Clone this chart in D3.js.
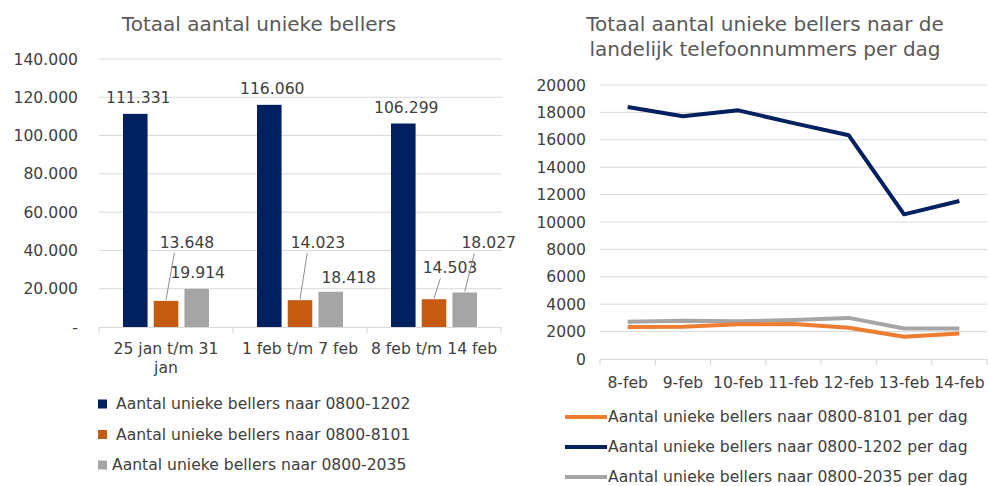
<!DOCTYPE html>
<html>
<head>
<meta charset="utf-8">
<script src="https://cdn.jsdelivr.net/npm/d3@7"></script>
<style>
  html, body { margin: 0; padding: 0; background: #fff; }
  svg { display: block; font-family: "DejaVu Sans", Verdana, sans-serif; }
</style>
</head>
<body>
<svg id="chart" width="988" height="486"></svg>
<script>
// ---------- DATA ----------
const weekCategories = ["25 jan t/m 31 jan", "1 feb t/m 7 feb", "8 feb t/m 14 feb"];
const weekCategoryLines = [["25 jan t/m 31", "jan"], ["1 feb t/m 7 feb"], ["8 feb t/m 14 feb"]];
const barSeriesNames = ["Aantal unieke bellers naar 0800-1202", "Aantal unieke bellers naar 0800-8101", "Aantal unieke bellers naar 0800-2035"];
const bellers1202 = [111331, 116060, 106299];
const bellers8101 = [13648, 14023, 14503];
const bellers2035 = [19914, 18418, 18027];
const barTicks = [0, 20000, 40000, 60000, 80000, 100000, 120000, 140000];

const days = ["8-feb", "9-feb", "10-feb", "11-feb", "12-feb", "13-feb", "14-feb"];
const lineSeriesNames = ["Aantal unieke bellers naar 0800-8101 per dag", "Aantal unieke bellers naar 0800-1202 per dag", "Aantal unieke bellers naar 0800-2035 per dag"];
const daily8101 = [2330, 2350, 2530, 2550, 2280, 1620, 1870];
const daily1202 = [18400, 17720, 18150, 17220, 16330, 10560, 11530];
const daily2035 = [2720, 2800, 2750, 2850, 3000, 2230, 2230];
const lineTicks = [0, 2000, 4000, 6000, 8000, 10000, 12000, 14000, 16000, 18000, 20000];

// ---------- STYLE ----------
const barColors = ["#002060", "#c55a11", "#a5a5a5"];
const lineColors = ["#ed7d31", "#002060", "#a5a5a5"];
const textColor = "#404040";
const titleColor = "#595959";
const gridColor = "#d9d9d9";
const fs = 15.6;
const tfs = 20;
const ff = "DejaVu Sans, Verdana, sans-serif";

const svg = d3.select("#chart");
const nl = d3.formatLocale({decimal: ",", thousands: ".", grouping: [3], currency: ["€", ""]});
const fmt = v => v === 0 ? "-" : nl.format(",")(v);

// ================= LEFT: bar chart =================
const L = svg.append("g");
const x0 = d3.scaleBand().domain(weekCategories).range([99, 501]);
const x1 = d3.scaleBand().domain([0, 1, 2]).range([24, 110]).paddingInner(0.2);
const yB = d3.scaleLinear().domain([0, 140000]).range([327, 59]);

L.append("text").attr("x", 259).attr("y", 31).attr("text-anchor", "middle")
  .attr("fill", titleColor).attr("font-size", tfs).text("Totaal aantal unieke bellers");

// grid
L.append("g").selectAll("line").data(barTicks.filter(t => t > 0)).join("line")
  .attr("x1", 99).attr("x2", 502).attr("y1", d => yB(d)).attr("y2", d => yB(d))
  .attr("stroke", gridColor).attr("stroke-width", 1);

// y axis labels
const yAxisB = d3.axisLeft(yB).tickValues(barTicks).tickFormat(fmt).tickSize(0).tickPadding(0);
const gyB = L.append("g").attr("transform", "translate(78,0)").call(yAxisB);
gyB.select(".domain").remove();
gyB.selectAll("text").attr("fill", textColor).attr("font-size", fs).attr("font-family", ff);

// bars
const barSeries = [bellers1202, bellers8101, bellers2035];
const groups = L.append("g").selectAll("g").data(weekCategories).join("g")
  .attr("transform", d => `translate(${x0(d)},0)`);
groups.selectAll("rect").data((d, i) => barSeries.map((s, k) => ({k, v: s[i]}))).join("rect")
  .attr("x", d => x1(d.k)).attr("width", x1.bandwidth())
  .attr("y", d => yB(d.v)).attr("height", d => yB(0) - yB(d.v))
  .attr("fill", d => barColors[d.k]);

// x axis
const xAxisB = d3.axisBottom(x0).tickSize(0).tickFormat("");
const gxB = L.append("g").attr("transform", `translate(0,${yB(0)})`).call(xAxisB);
gxB.select(".domain").attr("stroke", gridColor).attr("stroke-width", 1.2);
L.append("g").selectAll("line").data([...weekCategories.map(c => x0(c)), x0.range()[1]]).join("line")
  .attr("x1", d => d).attr("x2", d => d).attr("y1", yB(0)).attr("y2", yB(0) + 6)
  .attr("stroke", gridColor).attr("stroke-width", 1.2);
weekCategories.forEach((c, i) => {
  const t = L.append("text").attr("x", x0(c) + x0.bandwidth() / 2).attr("y", 354)
    .attr("text-anchor", "middle").attr("fill", textColor).attr("font-size", fs);
  weekCategoryLines[i].forEach((ln, j) => t.append("tspan").attr("x", x0(c) + x0.bandwidth() / 2).attr("dy", j ? 19 : 0).text(ln));
});

// data labels: offsets of each label from the top-center of its bar [series][group]: [dx, dy, leader]
const labelOffsets = [
  [[3, -11, false], [3, -11, false], [3, -11, false]],
  [[21, -53, true], [18, -52, true], [16, -26, true]],
  [[1, -11, false], [18, -9, false], [24, -44, true]]
];
barSeries.forEach((s, k) => {
  s.forEach((v, i) => {
    const cx = x0(weekCategories[i]) + x1(k) + x1.bandwidth() / 2;
    const top = yB(v);
    const [dx, dy, leader] = labelOffsets[k][i];
    if (leader) {
      L.append("line").attr("x1", cx + dx * 0.4).attr("y1", top + dy + 5)
        .attr("x2", cx).attr("y2", top - 1)
        .attr("stroke", "#7f7f7f").attr("stroke-width", 0.9);
    }
    L.append("text").attr("x", cx + dx).attr("y", top + dy).attr("text-anchor", "middle")
      .attr("fill", textColor).attr("font-size", fs).text(fmt(v));
  });
});

// legend
barSeriesNames.forEach((n, k) => {
  const y = 404 + k * 30.5;
  L.append("rect").attr("x", 98).attr("y", y - 4.5).attr("width", 9).attr("height", 9).attr("fill", barColors[k]);
  L.append("text").attr("x", k === 2 ? 112 : 116).attr("y", y).attr("dy", "0.35em")
    .attr("fill", textColor).attr("font-size", fs).text(n);
});

// ================= RIGHT: line chart =================
const R = svg.append("g");
const xL = d3.scaleBand().domain(days).range([600, 987]);
const yL = d3.scaleLinear().domain([0, 20000]).range([359, 85]);

const tt = R.append("text").attr("text-anchor", "middle").attr("fill", titleColor).attr("font-size", tfs);
tt.append("tspan").attr("x", 765).attr("y", 31).text("Totaal aantal unieke bellers naar de");
tt.append("tspan").attr("x", 765).attr("y", 56).text("landelijk telefoonnummers per dag");

R.append("g").selectAll("line").data(lineTicks.filter(t => t > 0)).join("line")
  .attr("x1", 600).attr("x2", 987).attr("y1", d => yL(d)).attr("y2", d => yL(d))
  .attr("stroke", gridColor).attr("stroke-width", 1);

const yAxisL = d3.axisLeft(yL).tickValues(lineTicks).tickFormat(d3.format("d")).tickSize(0).tickPadding(0);
const gyL = R.append("g").attr("transform", "translate(586,0)").call(yAxisL);
gyL.select(".domain").remove();
gyL.selectAll("text").attr("fill", textColor).attr("font-size", fs).attr("font-family", ff);

const xAxisL = d3.axisBottom(xL).tickSize(0).tickPadding(0);
const gxL = R.append("g").attr("transform", `translate(0,${yL(0)})`).call(xAxisL);
gxL.select(".domain").attr("stroke", gridColor).attr("stroke-width", 1.2);
gxL.selectAll("text").attr("y", 29).attr("dy", 0).attr("fill", textColor).attr("font-size", fs)
  .attr("font-family", ff);
R.append("g").selectAll("line").data([...days.map(d => xL(d)), xL.range()[1]]).join("line")
  .attr("x1", d => d).attr("x2", d => d).attr("y1", yL(0)).attr("y2", yL(0) + 6)
  .attr("stroke", gridColor).attr("stroke-width", 1.2);

const lineGen = d3.line().x((d, i) => xL(days[i]) + xL.bandwidth() / 2).y(d => yL(d));
const lineSeries = [daily8101, daily1202, daily2035];
[2, 0, 1].forEach(k => {
  R.append("path").datum(lineSeries[k]).attr("d", lineGen).attr("fill", "none")
    .attr("stroke", lineColors[k]).attr("stroke-width", 4).attr("stroke-linejoin", "round");
});

lineSeriesNames.forEach((n, k) => {
  const y = 417 + k * 30;
  R.append("line").attr("x1", 565).attr("x2", 607).attr("y1", y).attr("y2", y)
    .attr("stroke", lineColors[k]).attr("stroke-width", 4);
  R.append("text").attr("x", 608).attr("y", y).attr("dy", "0.35em")
    .attr("fill", textColor).attr("font-size", fs).text(n);
});
</script>
</body>
</html>
